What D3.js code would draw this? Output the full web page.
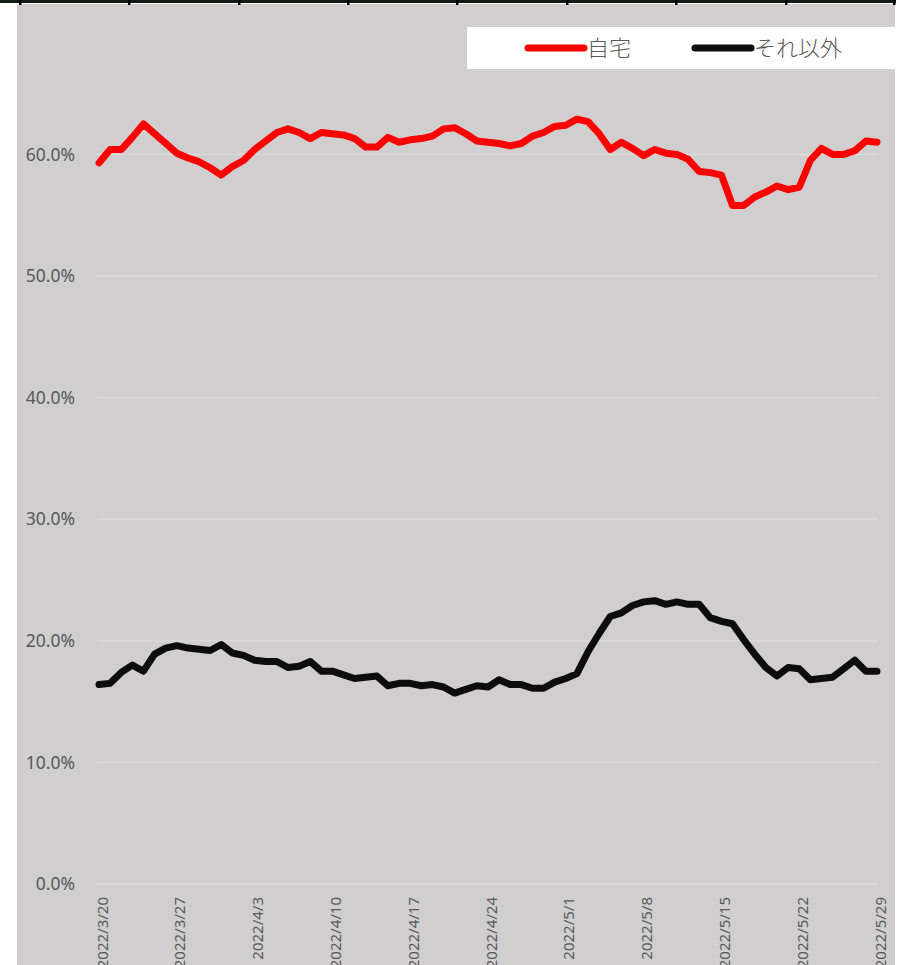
<!DOCTYPE html>
<meta charset="utf-8">
<script src="https://d3js.org/d3.v7.min.js"></script>
<style>
  body { margin: 0; background: #fff; }
</style>
<div id="my_dataviz"></div>
<script>

// daily share, 2022/3/20 .. 2022/5/29 (percent)
var firstDay = new Date(2022, 2, 20);
var lastDay = new Date(2022, 4, 29);

var home = [59.3, 60.4, 60.4, 61.4, 62.5, 61.7, 60.9, 60.1, 59.7, 59.4,
            58.9, 58.3, 59.0, 59.5, 60.4, 61.1, 61.8, 62.1, 61.8, 61.3,
            61.8, 61.7, 61.6, 61.3, 60.6, 60.6, 61.4, 61.0, 61.2, 61.3,
            61.5, 62.1, 62.2, 61.7, 61.1, 61.0, 60.9, 60.7, 60.9, 61.5,
            61.8, 62.3, 62.4, 62.9, 62.7, 61.7, 60.4, 61.0, 60.5, 59.9,
            60.4, 60.1, 60.0, 59.6, 58.6, 58.5, 58.3, 55.8, 55.8, 56.5,
            56.9, 57.4, 57.1, 57.3, 59.5, 60.5, 60.0, 60.0, 60.3, 61.1,
            61.0];

var other = [16.4, 16.5, 17.4, 18.0, 17.5, 18.9, 19.4, 19.6, 19.4, 19.3,
             19.2, 19.7, 19.0, 18.8, 18.4, 18.3, 18.3, 17.8, 17.9, 18.3,
             17.5, 17.5, 17.2, 16.9, 17.0, 17.1, 16.3, 16.5, 16.5, 16.3,
             16.4, 16.2, 15.7, 16.0, 16.3, 16.2, 16.8, 16.4, 16.4, 16.1,
             16.1, 16.6, 16.9, 17.3, 19.1, 20.6, 22.0, 22.3, 22.9, 23.2,
             23.3, 23.0, 23.2, 23.0, 23.0, 21.9, 21.6, 21.4, 20.1, 18.9,
             17.8, 17.1, 17.8, 17.7, 16.8, 16.9, 17.0, 17.7, 18.4, 17.5,
             17.5];

var seriesNames = ["自宅", "それ以外"];
var seriesColors = ["#ff0000", "#0d0d0d"];
var yTicks = [0, 0.1, 0.2, 0.3, 0.4, 0.5, 0.6];
var xTickLabels = ["2022/3/20", "2022/3/27", "2022/4/3", "2022/4/10", "2022/4/17",
                   "2022/4/24", "2022/5/1", "2022/5/8", "2022/5/15", "2022/5/22", "2022/5/29"];

var days = d3.timeDay.range(firstDay, d3.timeDay.offset(lastDay, 1));

var width = 908, height = 965;

var svg = d3.select("#my_dataviz")
  .append("svg")
    .attr("width", width)
    .attr("height", height)
    .style("display", "block");

// chart area background
svg.append("rect")
  .attr("x", 17).attr("y", 4)
  .attr("width", 878).attr("height", height - 4)
  .attr("fill", "#d0cece");

// sheet border strip across the top
svg.append("rect")
  .attr("x", 0).attr("y", 0)
  .attr("width", 896).attr("height", 3)
  .attr("fill", "#141a14");
svg.selectAll(".cell")
  .data([20, 129, 239, 348, 457, 567, 676, 786, 894])
  .enter().append("rect")
    .attr("x", d => d - 1).attr("y", 0)
    .attr("width", 2.5).attr("height", 5)
    .attr("fill", "#000");

var x = d3.scaleTime()
  .domain([firstDay, lastDay])
  .range([99, 877]);

var y = d3.scaleLinear()
  .domain([0, 0.7])
  .range([884, 32.8]);

// gridlines
svg.append("g")
  .selectAll("line")
  .data(yTicks)
  .enter().append("line")
    .attr("x1", 97).attr("x2", 878)
    .attr("y1", d => y(d)).attr("y2", d => y(d))
    .attr("stroke", "#dedcdc")
    .attr("stroke-width", 1.3);

// y axis labels
var yAxis = svg.append("g")
  .attr("transform", "translate(75,0)")
  .call(d3.axisLeft(y).tickValues(yTicks).tickSize(0).tickPadding(0)
    .tickFormat(d3.format(".1%")));
yAxis.select(".domain").remove();
yAxis.selectAll("text")
  .attr("fill", "#595959")
  .style("font-family", "'Noto Sans', sans-serif")
  .style("font-size", "17.5px");

// x axis labels, rotated
var parse = d3.timeParse("%Y/%m/%d");
var xAxis = svg.append("g")
  .attr("transform", "translate(0,897)")
  .call(d3.axisBottom(x)
    .tickValues(xTickLabels.map(parse))
    .tickSize(0)
    .tickFormat(d3.timeFormat("%Y/%-m/%-d")));
xAxis.select(".domain").remove();
xAxis.selectAll("text")
  .attr("fill", "#595959")
  .style("font-family", "'Noto Sans', sans-serif")
  .style("font-size", "15px")
  .attr("text-anchor", "end")
  .attr("dominant-baseline", "central")
  .attr("dy", null)
  .attr("y", 0)
  .attr("transform", "translate(2,0) rotate(-90)");

// lines
var line = d3.line()
  .x((d, i) => x(days[i]))
  .y(d => y(d / 100));

[home, other].forEach(function (vals, k) {
  svg.append("path")
    .datum(vals)
    .attr("d", line)
    .attr("fill", "none")
    .attr("stroke", seriesColors[k])
    .attr("stroke-width", 7)
    .attr("stroke-linejoin", "round")
    .attr("stroke-linecap", "round");
});

// legend
svg.append("rect")
  .attr("x", 467).attr("y", 27)
  .attr("width", 428).attr("height", 42)
  .attr("fill", "#fff");

var legendX = [528, 695];
var legend = svg.append("g")
  .selectAll("g")
  .data(seriesNames)
  .enter().append("g")
    .attr("transform", (d, i) => "translate(" + legendX[i] + ",48)");
legend.append("line")
  .attr("x1", 0).attr("x2", 56)
  .attr("stroke", (d, i) => seriesColors[i])
  .attr("stroke-width", 7)
  .attr("stroke-linecap", "round");
legend.append("text")
  .attr("x", 59)
  .attr("dy", "0.36em")
  .attr("fill", "#595959")
  .style("font-family", "'Noto Sans CJK JP', sans-serif")
  .style("font-size", "22px")
  .style("font-weight", 300)
  .text(d => d);

</script>
